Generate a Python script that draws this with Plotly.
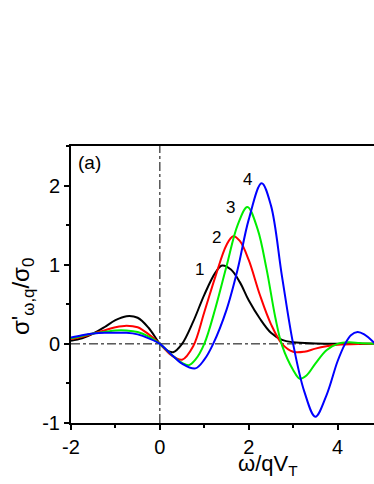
import plotly.graph_objects as go

x1 = [-2, -1.75, -1.5, -1.25, -1.0, -0.75, -0.5, -0.25, 0, 0.15, 0.3, 0.5, 0.75, 1.0, 1.25, 1.4, 1.6, 1.8, 2.0, 2.25, 2.5, 2.75, 3.0, 3.5, 4.0, 4.85]
y1 = [0.04, 0.07, 0.13, 0.21, 0.30, 0.35, 0.33, 0.20, 0.0, -0.08, -0.105, 0.0, 0.28, 0.62, 0.90, 0.99, 0.94, 0.78, 0.55, 0.32, 0.14, 0.05, 0.02, 0.005, 0.0, 0.0]

x2 = [-2, -1.75, -1.5, -1.25, -1.0, -0.75, -0.5, -0.25, 0, 0.25, 0.5, 0.75, 1.0, 1.25, 1.5, 1.65, 1.8, 2.0, 2.25, 2.5, 2.75, 3.0, 3.25, 3.5, 3.75, 4.0, 4.5, 4.85]
y2 = [0.06, 0.09, 0.13, 0.17, 0.21, 0.23, 0.21, 0.12, 0.0, -0.14, -0.20, -0.03, 0.40, 0.85, 1.25, 1.36, 1.30, 1.06, 0.62, 0.25, 0.0, -0.10, -0.10, -0.06, -0.03, -0.01, 0.0, 0.0]

x3 = [-2, -1.75, -1.5, -1.25, -1.0, -0.75, -0.5, -0.25, 0, 0.25, 0.5, 0.65, 0.8, 1.0, 1.25, 1.5, 1.75, 1.97, 2.2, 2.4, 2.6, 2.75, 3.0, 3.15, 3.3, 3.5, 3.75, 4.0, 4.25, 4.5, 4.85]
y3 = [0.07, 0.10, 0.13, 0.15, 0.17, 0.17, 0.15, 0.09, 0.0, -0.13, -0.24, -0.27, -0.20, 0.0, 0.45, 0.98, 1.50, 1.73, 1.45, 0.95, 0.33, -0.02, -0.33, -0.44, -0.40, -0.25, -0.08, 0.0, 0.02, 0.01, 0.0]

x4 = [-2, -1.75, -1.5, -1.25, -1.0, -0.75, -0.5, -0.25, 0, 0.25, 0.5, 0.8, 1.0, 1.2, 1.5, 1.75, 2.0, 2.29, 2.5, 2.75, 3.0, 3.25, 3.5, 3.75, 4.0, 4.17, 4.3, 4.45, 4.6, 4.85]
y4 = [0.08, 0.11, 0.13, 0.14, 0.14, 0.14, 0.12, 0.07, 0.0, -0.13, -0.25, -0.31, -0.20, 0.0, 0.43, 0.94, 1.57, 2.03, 1.75, 0.85, 0.0, -0.60, -0.92, -0.65, -0.22, 0.0, 0.11, 0.15, 0.12, 0.0]

series = [(x1, y1, "black"), (x2, y2, "red"), (x3, y3, "#00ee00"), (x4, y4, "blue")]
labels = ["1", "2", "3", "4"]
label_x = [0.9, 1.28, 1.6, 1.97]
label_y = [0.94, 1.34, 1.72, 2.08]

FONT = "Liberation Sans, Arial, sans-serif"

fig = go.Figure()
for xs, ys, c in series:
    fig.add_trace(go.Scatter(x=xs, y=ys, mode="lines", line=dict(color=c, width=2, shape="spline", smoothing=1.0),
                             showlegend=False, hoverinfo="skip"))

fig.add_shape(type="line", xref="x", yref="y", x0=-2, x1=4.82, y0=0, y1=0,
              line=dict(color="black", width=1, dash="dashdot"), layer="below")
fig.add_shape(type="line", xref="x", yref="y", x0=0, x1=0, y0=-1, y1=2.5,
              line=dict(color="black", width=1, dash="dashdot"), layer="below")

for t, lx, ly in zip(labels, label_x, label_y):
    fig.add_annotation(x=lx, y=ly, text=t, showarrow=False, font=dict(size=17, color="black", family=FONT))

fig.add_annotation(x=-1.58, y=2.29, text="(a)", showarrow=False, font=dict(size=19, color="black", family=FONT))

fig.add_annotation(xref="paper", yref="paper", x=-0.158, y=0.455, xanchor="center", yanchor="middle",
                   text="σ'<sub>ω,q</sub>/σ<sub>0</sub>",
                   textangle=-90, showarrow=False, font=dict(size=24, color="black", family=FONT))
fig.add_annotation(xref="paper", yref="paper", x=0.65, y=-0.152, xanchor="center", yanchor="middle",
                   text="ω/qV<sub>T</sub>", showarrow=False, font=dict(size=22, color="black", family=FONT))

fig.update_layout(
    width=374, height=484,
    margin=dict(l=71, r=0, t=146, b=61),
    paper_bgcolor="white", plot_bgcolor="white",
    font=dict(family=FONT, color="black", size=20),
    xaxis=dict(range=[-2, 4.82], tickvals=[-2, 0, 2, 4], ticktext=["-2", "0", "2", "4"],
               ticks="outside", ticklen=5, tickwidth=2, tickcolor="black",
               minor=dict(ticks="outside", ticklen=3, tickwidth=2, dtick=1, tick0=-1, tickcolor="black", showgrid=False),
               showline=True, linecolor="black", linewidth=2, mirror=True,
               showgrid=False, zeroline=False, tickfont=dict(size=20)),
    yaxis=dict(range=[-1, 2.5], tickvals=[-1, 0, 1, 2], ticktext=["-1", "0", "1", "2"],
               ticks="outside", ticklen=5, tickwidth=2, tickcolor="black",
               minor=dict(ticks="outside", ticklen=3, tickwidth=2, dtick=0.5, tick0=-0.5, tickcolor="black", showgrid=False),
               showline=True, linecolor="black", linewidth=2,
               showgrid=False, zeroline=False, tickfont=dict(size=20)),
)

fig.write_html(
    "out.html",
    config={"displayModeBar": False},
    post_script="document.body.style.margin='0';document.body.style.overflow='hidden';"
                "document.documentElement.style.overflow='hidden';",
)
